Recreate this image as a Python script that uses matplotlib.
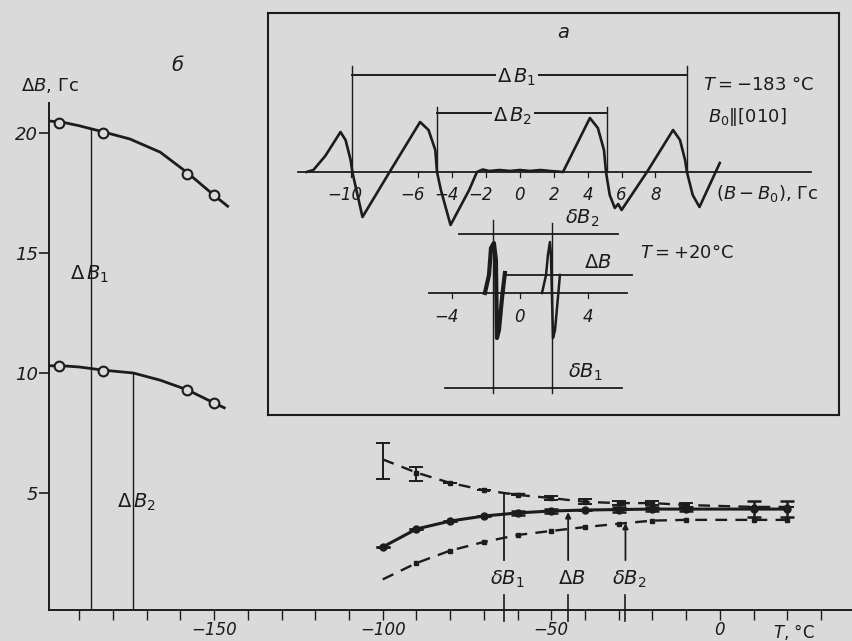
import matplotlib
matplotlib.use("Agg")
import matplotlib.pyplot as plt
import numpy as np

plt.rcParams['mathtext.fontset'] = 'dejavusans'

bg = "#dadada"
ink = "#1c1c1c"

# ---- panel б : line widths vs temperature ----
t_db1_line = [-199, -195, -190, -183, -175, -166, -158, -150, -146]
db1_line = [20.5, 20.45, 20.3, 20.05, 19.75, 19.2, 18.35, 17.4, 16.95]
t_db2_line = [-199, -195, -190, -183, -174, -166, -158, -150, -147]
db2_line = [10.3, 10.3, 10.25, 10.12, 10.0, 9.7, 9.3, 8.75, 8.55]
t_circ = [-196, -183, -158, -150]
db1_circ = [20.4, 20.0, 18.3, 17.4]
db2_circ = [10.3, 10.1, 9.3, 8.75]

t_hi = [-100, -90, -80, -70, -60, -50, -40, -30, -20, -10, 10, 20]
upper = [6.4, 5.85, 5.42, 5.12, 4.92, 4.79, 4.63, 4.58, 4.58, 4.5, 4.42, 4.42]
solid = [2.75, 3.5, 3.83, 4.04, 4.17, 4.25, 4.29, 4.31, 4.33, 4.33, 4.33, 4.33]
lower = [1.4, 2.08, 2.6, 2.96, 3.25, 3.42, 3.58, 3.72, 3.85, 3.88, 3.88, 3.88]
upper_err_lo = [0.8, 0.35, 0, 0, 0, 0.1, 0.1, 0.1, 0.1, 0.1, 0, 0]
upper_err_hi = [0.7, 0.25, 0, 0, 0, 0.1, 0.1, 0.1, 0.1, 0.1, 0, 0]
solid_err = [0, 0, 0, 0, 0.1, 0.1, 0, 0.1, 0.1, 0.1, 0.35, 0.35]

# vertical guide lines (temperature, top value)
t_guide_left = [-186.5, -174.2]
guide_left_top = [20.15, 10.0]
t_guide_right = [-64, -45, -28]
guide_right_top = [5.0, 4.2, 3.75]
guide_right_names = [r'$\delta B_1$', r'$\Delta B$', r'$\delta B_2$']

# ---- panel а : EPR spectra ----
b_183 = [-12.6, -12.2, -11.5, -10.6, -10.3, -10.0, -9.9, -9.3, -7.7, -5.9, -5.4,
         -5.0, -4.9, -4.67, -4.1, -3.0, -2.54, -2.2, -1.8, -1.2, -0.6, 0.0, 0.6,
         1.2, 1.8, 2.54, 4.13, 4.6, 4.96, 5.08, 5.3, 5.6, 5.8, 6.0, 7.5, 9.04,
         9.45, 9.75, 9.86, 10.2, 10.6, 11.2, 11.8]
a_183 = [0, 0.2, 1.6, 4.0, 3.2, 1.2, 0, -4.5, 0, 5.0, 4.2,
         2.2, 0, -1.8, -5.3, -1.8, 0, 0.25, 0.1, 0.2, 0.1, 0.2, 0.1,
         0.2, 0.1, 0, 5.4, 4.4, 2.2, 0, -2.3, -3.6, -3.2, -3.8, 0, 4.2,
         3.2, 1.2, 0, -2.3, -3.5, -1.3, 0.9]
b_20a = [-2.07, -1.83, -1.71, -1.54, -1.42, -1.36, -1.24, -1.06, -0.89]
a_20a = [-12.1, -10.3, -7.6, -7.1, -8.8, -16.6, -15.8, -12.6, -10.1]
b_20b = [1.3, 1.54, 1.65, 1.77, 1.83, 1.95, 2.07, 2.24, 2.36]
a_20b = [-12.1, -10.3, -8.3, -7.0, -8.3, -16.6, -15.8, -12.6, -10.3]
ticks_183 = [-10, -6, -4, -2, 0, 2, 4, 6, 8]
ticks_20 = [-4, 0, 4]

fig = plt.figure(figsize=(8.53, 6.41), dpi=100, facecolor=bg)

# ================= main axes =================
ax = fig.add_axes([49 / 853, 1 - 610 / 641, 804 / 853, 507 / 641])
ax.set_facecolor(bg)
ax.set_xlim(-199, 39.5)
ax.set_ylim(0.125, 21.25)
for s in ['top', 'right']:
    ax.spines[s].set_visible(False)
for s in ['left', 'bottom']:
    ax.spines[s].set_linewidth(1.4)
    ax.spines[s].set_color(ink)

ax.set_yticks([5, 10, 15, 20])
ax.set_xticks([-150, -100, -50, 0])
ax.set_xticks(np.arange(-190, 31, 10), minor=True)
ax.tick_params(axis='y', direction='out', length=7, width=1.2, colors=ink,
               labelsize=13, pad=1)
ax.tick_params(axis='x', which='both', direction='out', length=7, width=1.0,
               colors=ink, labelsize=12, pad=1)
for lab in ax.get_xticklabels() + ax.get_yticklabels():
    lab.set_fontstyle('italic')
ax.set_xticklabels(['\u2212150', '\u2212100', '\u221250', '0'])

# left curves
ax.plot(t_db1_line, db1_line, color=ink, lw=2.0)
ax.plot(t_db2_line, db2_line, color=ink, lw=2.0)
ax.plot(t_circ, db1_circ, 'o', ms=7, mfc=bg, mec=ink, mew=1.5)
ax.plot(t_circ, db2_circ, 'o', ms=7, mfc=bg, mec=ink, mew=1.5)
for t, top in zip(t_guide_left, guide_left_top):
    ax.plot([t, t], [0.125, top], color=ink, lw=1.0)
ax.text(-187, 14.1, r'$\Delta\,B_1$', fontsize=14, ha='center', va='center', color=ink)
ax.text(-173, 4.6, r'$\Delta\,B_2$', fontsize=14, ha='center', va='center', color=ink)

# right curves
ax.plot(t_hi, upper, color=ink, lw=1.7, dashes=(5, 3.5))
ax.plot(t_hi, lower, color=ink, lw=1.7, dashes=(5, 3.5))
ax.plot(t_hi, solid, color=ink, lw=2.2)
ax.plot(t_hi, solid, 'o', ms=5, color=ink)
ax.plot(t_hi[1:], upper[1:], 's', ms=3, color=ink)
ax.plot(t_hi[1:], lower[1:], 's', ms=3, color=ink)
ax.errorbar(t_hi, upper, yerr=[upper_err_lo, upper_err_hi], fmt='none',
            ecolor=ink, elinewidth=1.4, capsize=5, capthick=1.4)
ax.errorbar(t_hi, solid, yerr=solid_err, fmt='none', ecolor=ink,
            elinewidth=1.8, capsize=5, capthick=1.8)

for i, (t, top, name) in enumerate(zip(t_guide_right, guide_right_top, guide_right_names)):
    if i == 0:
        ax.plot([t, t], [2.2, top], color=ink, lw=1.3)
        ax.plot([t, t + 6], [top, top], color=ink, lw=1.0)
    else:
        ax.annotate('', xy=(t, top), xytext=(t, 2.2),
                    arrowprops=dict(arrowstyle='-|>', color=ink, lw=1.3,
                                    mutation_scale=8, shrinkA=0, shrinkB=0))
    ax.plot([t, t], [-0.35, 0.75], color=ink, lw=1.2, clip_on=False)
    ax.text(t + 1, 1.42, name, fontsize=14, ha='center', va='center', color=ink)

ax.text(-198.8, 21.6, r'$\Delta B$, Гс', fontsize=13, ha='center', va='bottom', color=ink)
ax.text(-161, 22.8, 'б', fontsize=14, style='italic', ha='center', va='center', color=ink)
ax.text(22, -0.8, r'$T$, °C', fontsize=12, ha='center', va='center', color=ink)

# ================= inset а =================
ins = fig.add_axes([268 / 853, 1 - 415 / 641, 571 / 853, 402 / 641])
ins.set_facecolor(bg)
ins.set_xlim(-14.88, 18.84)
ins.set_ylim(-24.3, 15.9)
ins.set_xticks([])
ins.set_yticks([])
for s in ins.spines.values():
    s.set_linewidth(1.5)
    s.set_color(ink)

# T = -183 spectrum
ins.plot([-13.1, 17.2], [0, 0], color=ink, lw=1.3)
ins.plot(b_183, a_183, color=ink, lw=1.9)
for b in ticks_183:
    ins.plot([b, b], [0, -0.5], color=ink, lw=0.9)
    lab = str(b).replace('-', '\u2212')
    ins.text(b - (0.35 if b < 0 else 0), -2.3, lab, fontsize=12, style='italic',
             ha='center', va='center', color=ink)

# brackets ΔB1, ΔB2
ins.plot([-9.9, -9.9], [0, 10.6], color=ink, lw=1.0)
ins.plot([9.86, 9.86], [0, 10.6], color=ink, lw=1.0)
ins.plot([-9.9, 9.86], [9.7, 9.7], color=ink, lw=1.4)
ins.plot([-4.9, -4.9], [0, 6.5], color=ink, lw=1.0)
ins.plot([5.14, 5.14], [0, 6.5], color=ink, lw=1.0)
ins.plot([-4.9, 5.14], [5.9, 5.9], color=ink, lw=1.4)
ins.text(-0.18, 9.5, r'$\Delta\,B_1$', fontsize=14, ha='center', va='center', color=ink,
         bbox=dict(facecolor=bg, edgecolor='none', pad=1))
ins.text(-0.41, 5.6, r'$\Delta\,B_2$', fontsize=14, ha='center', va='center', color=ink,
         bbox=dict(facecolor=bg, edgecolor='none', pad=1))

ins.text(2.54, 14.0, 'а', fontsize=14, style='italic', ha='center', va='center', color=ink)
ins.text(14.06, 8.7, r'$T = -183$ °C', fontsize=13, ha='center', va='center', color=ink)
ins.text(13.4, 5.5, r'$B_0\|[010]$', fontsize=13, ha='center', va='center', color=ink)
ins.text(14.6, -2.1, r'$(B-B_0)$, Гс', fontsize=13, ha='center', va='center', color=ink)

# T = +20 spectrum
ins.plot([-5.4, 6.3], [-12.1, -12.1], color=ink, lw=1.3)
ins.plot(b_20a, a_20a, color=ink, lw=3.0)
ins.plot(b_20b, a_20b, color=ink, lw=1.8)
for b in ticks_20:
    ins.plot([b, b], [-12.1, -12.6], color=ink, lw=0.9)
    lab = str(b).replace('-', '\u2212')
    ins.text(b - (0.35 if b < 0 else 0), -14.5, lab, fontsize=12, style='italic',
             ha='center', va='center', color=ink)

ins.plot([-1.6, -1.6], [-4.8, -22.1], color=ink, lw=1.0)
ins.plot([1.9, 1.9], [-5.1, -22.1], color=ink, lw=1.0)
ins.plot([-3.6, 5.8], [-6.2, -6.2], color=ink, lw=1.3)
ins.plot([-0.9, 6.6], [-10.3, -10.3], color=ink, lw=1.3)
ins.plot([-4.4, 6.0], [-21.6, -21.6], color=ink, lw=1.3)
ins.text(3.66, -4.6, r'$\delta B_2$', fontsize=14, ha='center', va='center', color=ink)
ins.text(4.6, -9.0, r'$\Delta B$', fontsize=14, ha='center', va='center', color=ink)
ins.text(3.84, -20.0, r'$\delta B_1$', fontsize=14, ha='center', va='center', color=ink)
ins.text(9.86, -8.1, r'$T = +20$°C', fontsize=13, ha='center', va='center', color=ink)

fig.savefig('out.png', dpi=100, facecolor=bg)
